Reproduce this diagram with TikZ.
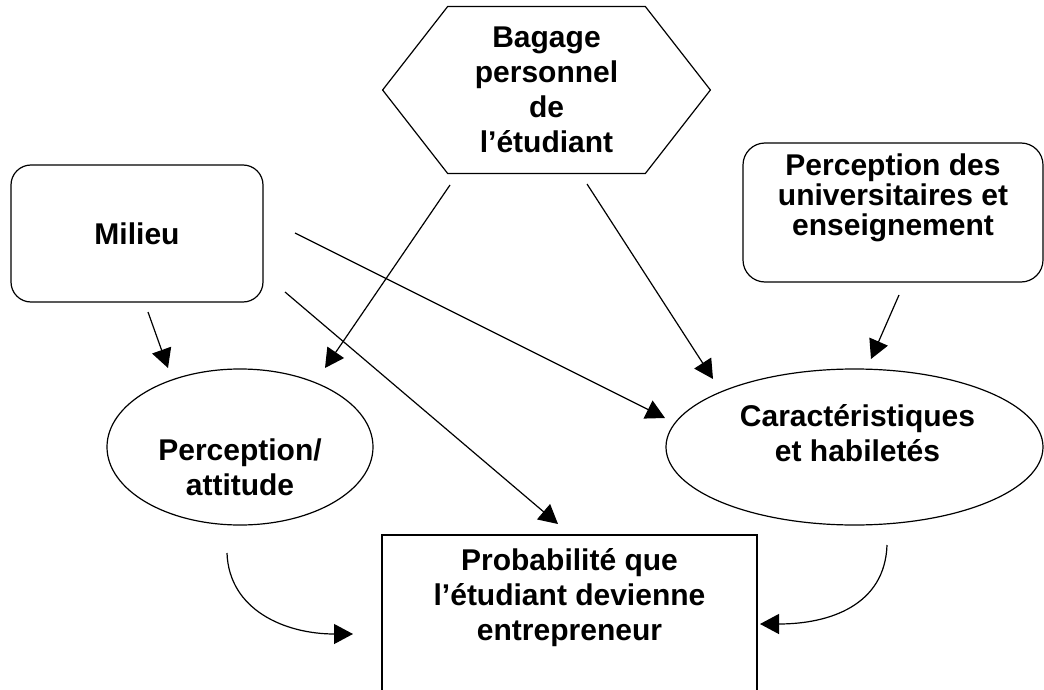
\documentclass[tikz,border=0pt]{standalone}
\usepackage{fontspec}
\setmainfont{Liberation Sans}
\usetikzlibrary{shapes,arrows.meta}
\tikzstyle{txt} = [align=center, font=\bfseries\fontsize{15}{17.5}\selectfont]
\tikzstyle{roundbox} = [rectangle, rounded corners=10pt, draw=black, line width=0.6pt, txt]
\tikzstyle{oval} = [ellipse, draw=black, line width=0.6pt, minimum width=133pt, minimum height=78pt]
\tikzstyle{hexa} = [rectangle, minimum width=98.5pt, minimum height=83pt, inner sep=0pt, txt]
\tikzstyle{result} = [rectangle, draw=black, line width=0.6pt, minimum width=187.5pt, minimum height=87.5pt]
\tikzstyle{arrow} = [-{Triangle[length=9.5pt,width=10pt]}, line width=0.6pt]

\begin{document}
\begin{tikzpicture}[x=0.5pt, y=-0.5pt]
    \useasboundingbox (0,0) rectangle (1044,690);
    \clip (0,0) rectangle (1044,690);

    \node(bagage)[hexa] at (546.5,90) {Bagage\\personnel\\de\\l’étudiant};
    \draw[line width=0.6pt] (bagage.north west) -- (bagage.north east) -- ([xshift=32.5pt]bagage.east)
        -- (bagage.south east) -- (bagage.south west) -- ([xshift=-32.5pt]bagage.west) -- cycle;

    \node(milieu)[roundbox, minimum width=126pt, minimum height=68.5pt] at (137,233.5) {Milieu};
    \node(univ)[roundbox, rounded corners=11pt, minimum width=150pt, minimum height=69.5pt,
        label={[txt, font=\bfseries\fontsize{15}{15}\selectfont, yshift=7.5pt]center:{Perception des\\universitaires et\\enseignement}}] at (893,212.5) {};

    \node(percep)[oval, label={[txt, yshift=-10pt]center:{Perception/\\attitude}}] at (240,447) {};
    \node(carac)[oval, minimum width=188.5pt, label={[txt, xshift=1.5pt, yshift=7pt]center:{Caractéristiques\\et habiletés}}] at (854.5,447) {};

    \node(proba)[result, label={[txt, yshift=12.5pt]center:{Probabilité que\\l’étudiant devienne\\entrepreneur}}] at (569.5,622.5) {};

    % ends of the arrows
    \coordinate (m1) at (148,312);  \coordinate (pe1) at (168,368);
    \coordinate (b1) at (450,185);  \coordinate (pe2) at (325,368);
    \coordinate (m2) at (295,233);  \coordinate (c1) at (665,418);
    \coordinate (m3) at (285,292);  \coordinate (pa1) at (558,524);
    \coordinate (b2) at (587,184);  \coordinate (c2) at (713,379);
    \coordinate (u1) at (899,295);  \coordinate (c3) at (871,359);
    \coordinate (pe3) at (227,553); \coordinate (pa2) at (353,634);
    \coordinate (c4) at (887,545);  \coordinate (pa3) at (760,624);

    \draw[arrow] (m1) -- (pe1);
    \draw[arrow] (b1) -- (pe2);
    \draw[arrow] (m2) -- (c1);
    \draw[arrow] (m3) -- (pa1);
    \draw[arrow] (b2) -- (c2);
    \draw[arrow] (u1) -- (c3);

    \draw[arrow] (pe3) .. controls +(2,57) and +(-68,0) .. (pa2);
    \draw[arrow] (c4) .. controls +(-2,60) and +(70,0) .. (pa3);

\end{tikzpicture}
\end{document}
